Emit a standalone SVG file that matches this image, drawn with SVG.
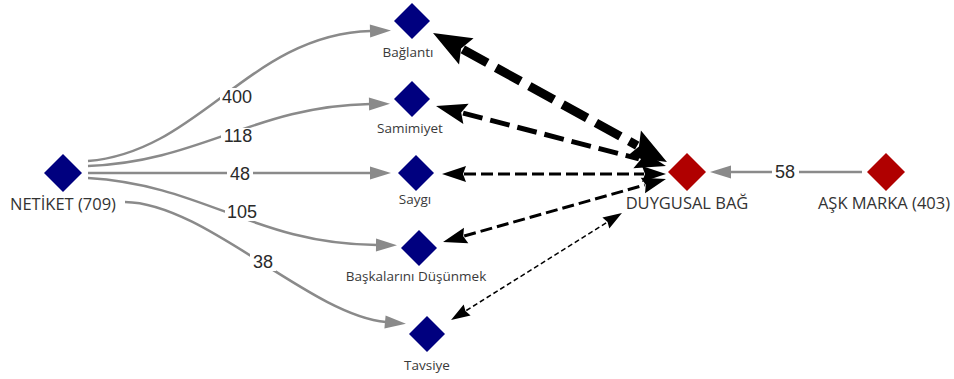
<svg xmlns="http://www.w3.org/2000/svg" width="954" height="379" viewBox="0 0 954 379">
<style>
.blue{fill:#00007f}
.red{fill:#b00000}
.lbl{font-family:"Open Sans","Noto Sans",sans-serif;font-size:13.5px;fill:#3a3a3a;text-anchor:middle}
.big{font-family:"Open Sans","Noto Sans",sans-serif;font-size:16.5px;fill:#333;text-anchor:middle}
.num{font-family:"Liberation Sans",Arial,sans-serif;font-size:18px;fill:#2a2a2a;text-anchor:middle;dominant-baseline:central}
.g{fill:none;stroke:#8a8a8a;stroke-width:2.5;marker-end:url(#ag)}
.k{fill:none;stroke:#000;stroke-linecap:butt}
.bg{fill:#fff}
</style>
<defs>
<marker id="ag" markerUnits="userSpaceOnUse" orient="auto" overflow="visible" markerWidth="1" markerHeight="1" refX="0" refY="0"><path d="M-1,-6.5 L20,0 L-1,6.5 Z" fill="#8a8a8a"/></marker>
<marker id="aL" markerUnits="userSpaceOnUse" orient="auto-start-reverse" overflow="visible" markerWidth="1" markerHeight="1" refX="0" refY="0"><path d="M-4,-15 L34,0 L-4,15 L2,0 Z" fill="#000"/></marker>
<marker id="aM" markerUnits="userSpaceOnUse" orient="auto-start-reverse" overflow="visible" markerWidth="1" markerHeight="1" refX="0" refY="0"><path d="M-3,-10.5 L28,0 L-3,10.5 L2,0 Z" fill="#000"/></marker>
<marker id="aS" markerUnits="userSpaceOnUse" orient="auto-start-reverse" overflow="visible" markerWidth="1" markerHeight="1" refX="0" refY="0"><path d="M-2,-8 L22,0 L-2,8 L1,0 Z" fill="#000"/></marker>
<marker id="aXS" markerUnits="userSpaceOnUse" orient="auto-start-reverse" overflow="visible" markerWidth="1" markerHeight="1" refX="0" refY="0"><path d="M-1,-6.5 L18,0 L-1,6.5 L1,0 Z" fill="#000"/></marker>
</defs>

<g id="connectors">
  <path class="g" d="M88,161 C200,152 250,34 371,31"/>
  <path class="g" d="M88,166 C200,162 255,106 370,104"/>
  <path class="g" d="M88,173 L371,173"/>
  <path class="g" d="M88,178 C205,185 255,244 377,245"/>
  <path class="g" d="M125,202 C205,203 310,315 386,322"/>
  <path class="g" d="M862,172 L730,172"/>

  <path class="k" d="M462.8,49.4 L637.2,145.6" stroke-width="9" stroke-dasharray="28 10" marker-start="url(#aL)" marker-end="url(#aL)"/>
  <path class="k" d="M463.1,113.1 L638.9,158.9" stroke-width="5" stroke-dasharray="20 8" marker-start="url(#aM)" marker-end="url(#aM)"/>
  <path class="k" d="M464,174 L644,174" stroke-width="3" stroke-dasharray="12 5" marker-start="url(#aS)" marker-end="url(#aS)"/>
  <path class="k" d="M464.2,236 L644.8,185" stroke-width="3" stroke-dasharray="12 5" marker-start="url(#aS)" marker-end="url(#aS)"/>
  <path class="k" d="M466.3,310.5 L606.7,222.5" stroke-width="1.5" stroke-dasharray="5 3" marker-start="url(#aXS)" marker-end="url(#aXS)"/>

  <g id="edge-labels">
    <rect class="bg" x="220" y="88" width="35" height="18"/><text class="num" x="237" y="97">400</text>
    <rect class="bg" x="221" y="128" width="35" height="18"/><text class="num" x="238" y="136">118</text>
    <rect class="bg" x="227" y="165" width="26" height="18"/><text class="num" x="240" y="174">48</text>
    <rect class="bg" x="225" y="203" width="35" height="18"/><text class="num" x="242" y="212">105</text>
    <rect class="bg" x="250" y="253" width="26" height="18"/><text class="num" x="263" y="262">38</text>
    <rect class="bg" x="772" y="163" width="27" height="18"/><text class="num" x="785" y="172">58</text>
  </g>
</g>

<g id="netiket"><path class="blue" d="M63,154 L82,173 L63,192 L44,173 Z"/><text class="big" x="63" y="210">NETİKET (709)</text></g>
<g id="baglanti"><path class="blue" d="M412,3 L430,21 L412,39 L394,21 Z"/><text class="lbl" x="408" y="57">Bağlantı</text></g>
<g id="samimiyet"><path class="blue" d="M412,81 L430,99 L412,117 L394,99 Z"/><text class="lbl" x="410" y="133">Samimiyet</text></g>
<g id="saygi"><path class="blue" d="M416,155 L434,173 L416,191 L398,173 Z"/><text class="lbl" x="415" y="204">Saygı</text></g>
<g id="baskalarini"><path class="blue" d="M419,230 L437,248 L419,266 L401,248 Z"/><text class="lbl" x="416" y="281">Başkalarını Düşünmek</text></g>
<g id="tavsiye"><path class="blue" d="M427,316 L445,334 L427,352 L409,334 Z"/><text class="lbl" x="427" y="370">Tavsiye</text></g>
<g id="duygusal"><path class="red" d="M687,153 L706,172 L687,191 L668,172 Z"/><text class="big" x="687" y="209">DUYGUSAL BAĞ</text></g>
<g id="askmarka"><path class="red" d="M886,153 L905,172 L886,191 L867,172 Z"/><text class="big" x="884" y="209">AŞK MARKA (403)</text></g>
</svg>
